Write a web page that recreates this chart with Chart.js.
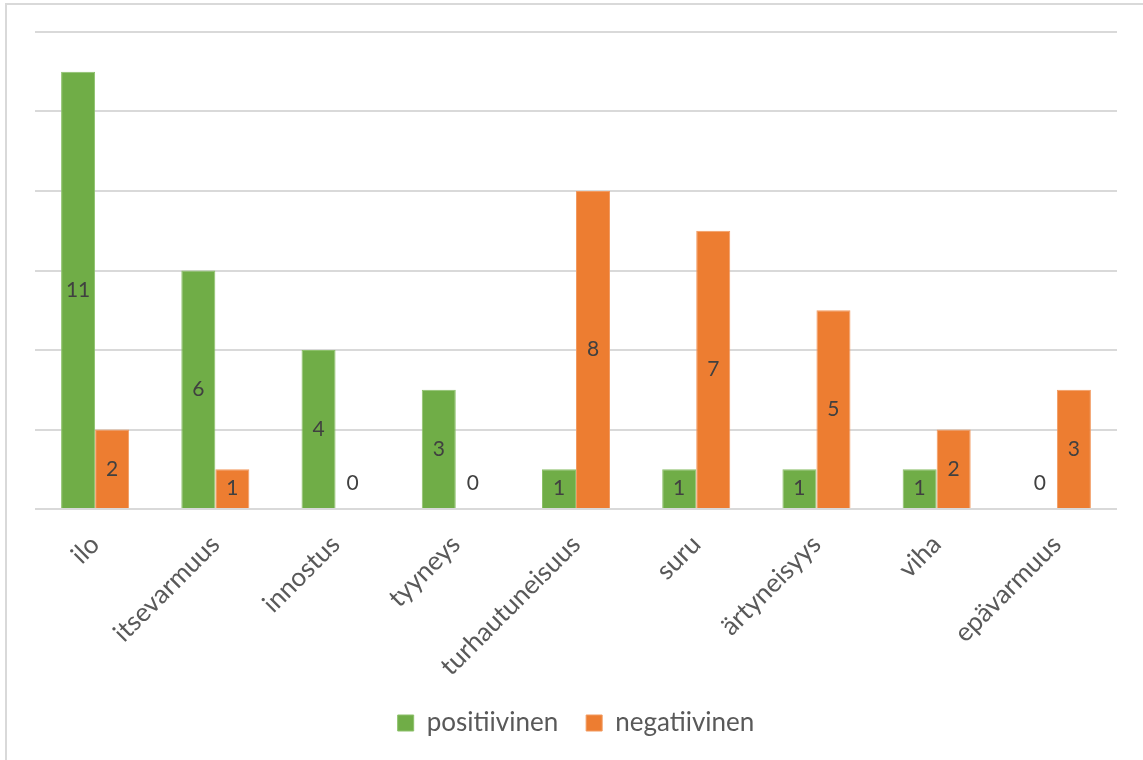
<!DOCTYPE html>
<html>
<head>
<meta charset="utf-8">
<script src="https://cdn.jsdelivr.net/npm/chart.js@4/dist/chart.umd.min.js"></script>
<style>
  body { margin: 0; background: #fff; }
  #frame { position: absolute; left: 5px; top: 3px; width: 1160px; height: 780px; border: 2px solid #d9d9d9; }
  #wrap { position: absolute; left: 0; top: 0; width: 1143px; height: 760px; }
</style>
</head>
<body>
<div id="frame"></div>
<div id="wrap"><canvas id="myChart"></canvas></div>
<script>
const categories = ["ilo", "itsevarmuus", "innostus", "tyyneys", "turhautuneisuus", "suru", "ärtyneisyys", "viha", "epävarmuus"];
const positiivinen = [11, 6, 4, 3, 1, 1, 1, 1, 0];
const negatiivinen = [2, 1, 0, 0, 8, 7, 5, 2, 3];
const yTicks = [0, 2, 4, 6, 8, 10, 12];

const fontFamily = "Lato, 'Open Sans', sans-serif";

// labels in the middle of each bar, zero values just above the baseline
const barLabels = {
  id: "barLabels",
  afterDatasetsDraw(chart) {
    const ctx = chart.ctx;
    ctx.save();
    ctx.font = "21px " + fontFamily;
    ctx.fillStyle = "#404040";
    ctx.textAlign = "center";
    ctx.textBaseline = "middle";
    chart.data.datasets.forEach((ds, i) => {
      chart.getDatasetMeta(i).data.forEach((bar, j) => {
        let v = ds.data[j];
        let y = v > 0 ? (bar.y + bar.base) / 2 : bar.base - 26;
        ctx.fillText(String(v), bar.x, y);
      });
    });
    ctx.restore();
  }
};

Chart.defaults.font.family = fontFamily;
Chart.defaults.color = "#595959";

new Chart(document.getElementById("myChart"), {
  type: "bar",
  data: {
    labels: categories,
    datasets: [
      { label: "positiivinen", data: positiivinen, backgroundColor: "#70ad47", borderColor: "#8cc06a", borderWidth: 1 },
      { label: "negatiivinen", data: negatiivinen, backgroundColor: "#ed7d31", borderColor: "#f29a60", borderWidth: 1 }
    ]
  },
  options: {
    responsive: true,
    maintainAspectRatio: false,
    animation: false,
    categoryPercentage: 0.566,
    barPercentage: 1,
    layout: { padding: { left: 35, right: 26, top: 32, bottom: 14 } },
    plugins: {
      tooltip: { enabled: false },
      legend: {
        position: "bottom",
        labels: { boxWidth: 16, boxHeight: 16, padding: 28, font: { size: 26 }, color: "#595959" }
      }
    },
    scales: {
      x: {
        grid: { display: false },
        border: { display: false },
        ticks: { maxRotation: 45, minRotation: 45, font: { size: 26 }, color: "#595959", padding: 12 },
        afterFit: (s) => { s.height = 173; }
      },
      y: {
        min: 0,
        max: 12,
        afterBuildTicks: (s) => { s.ticks = yTicks.map(v => ({ value: v })); },
        ticks: { display: false },
        grid: { color: "#d9d9d9", lineWidth: 2, drawTicks: false },
        border: { display: false }
      }
    }
  },
  plugins: [barLabels]
});
</script>
</body>
</html>
